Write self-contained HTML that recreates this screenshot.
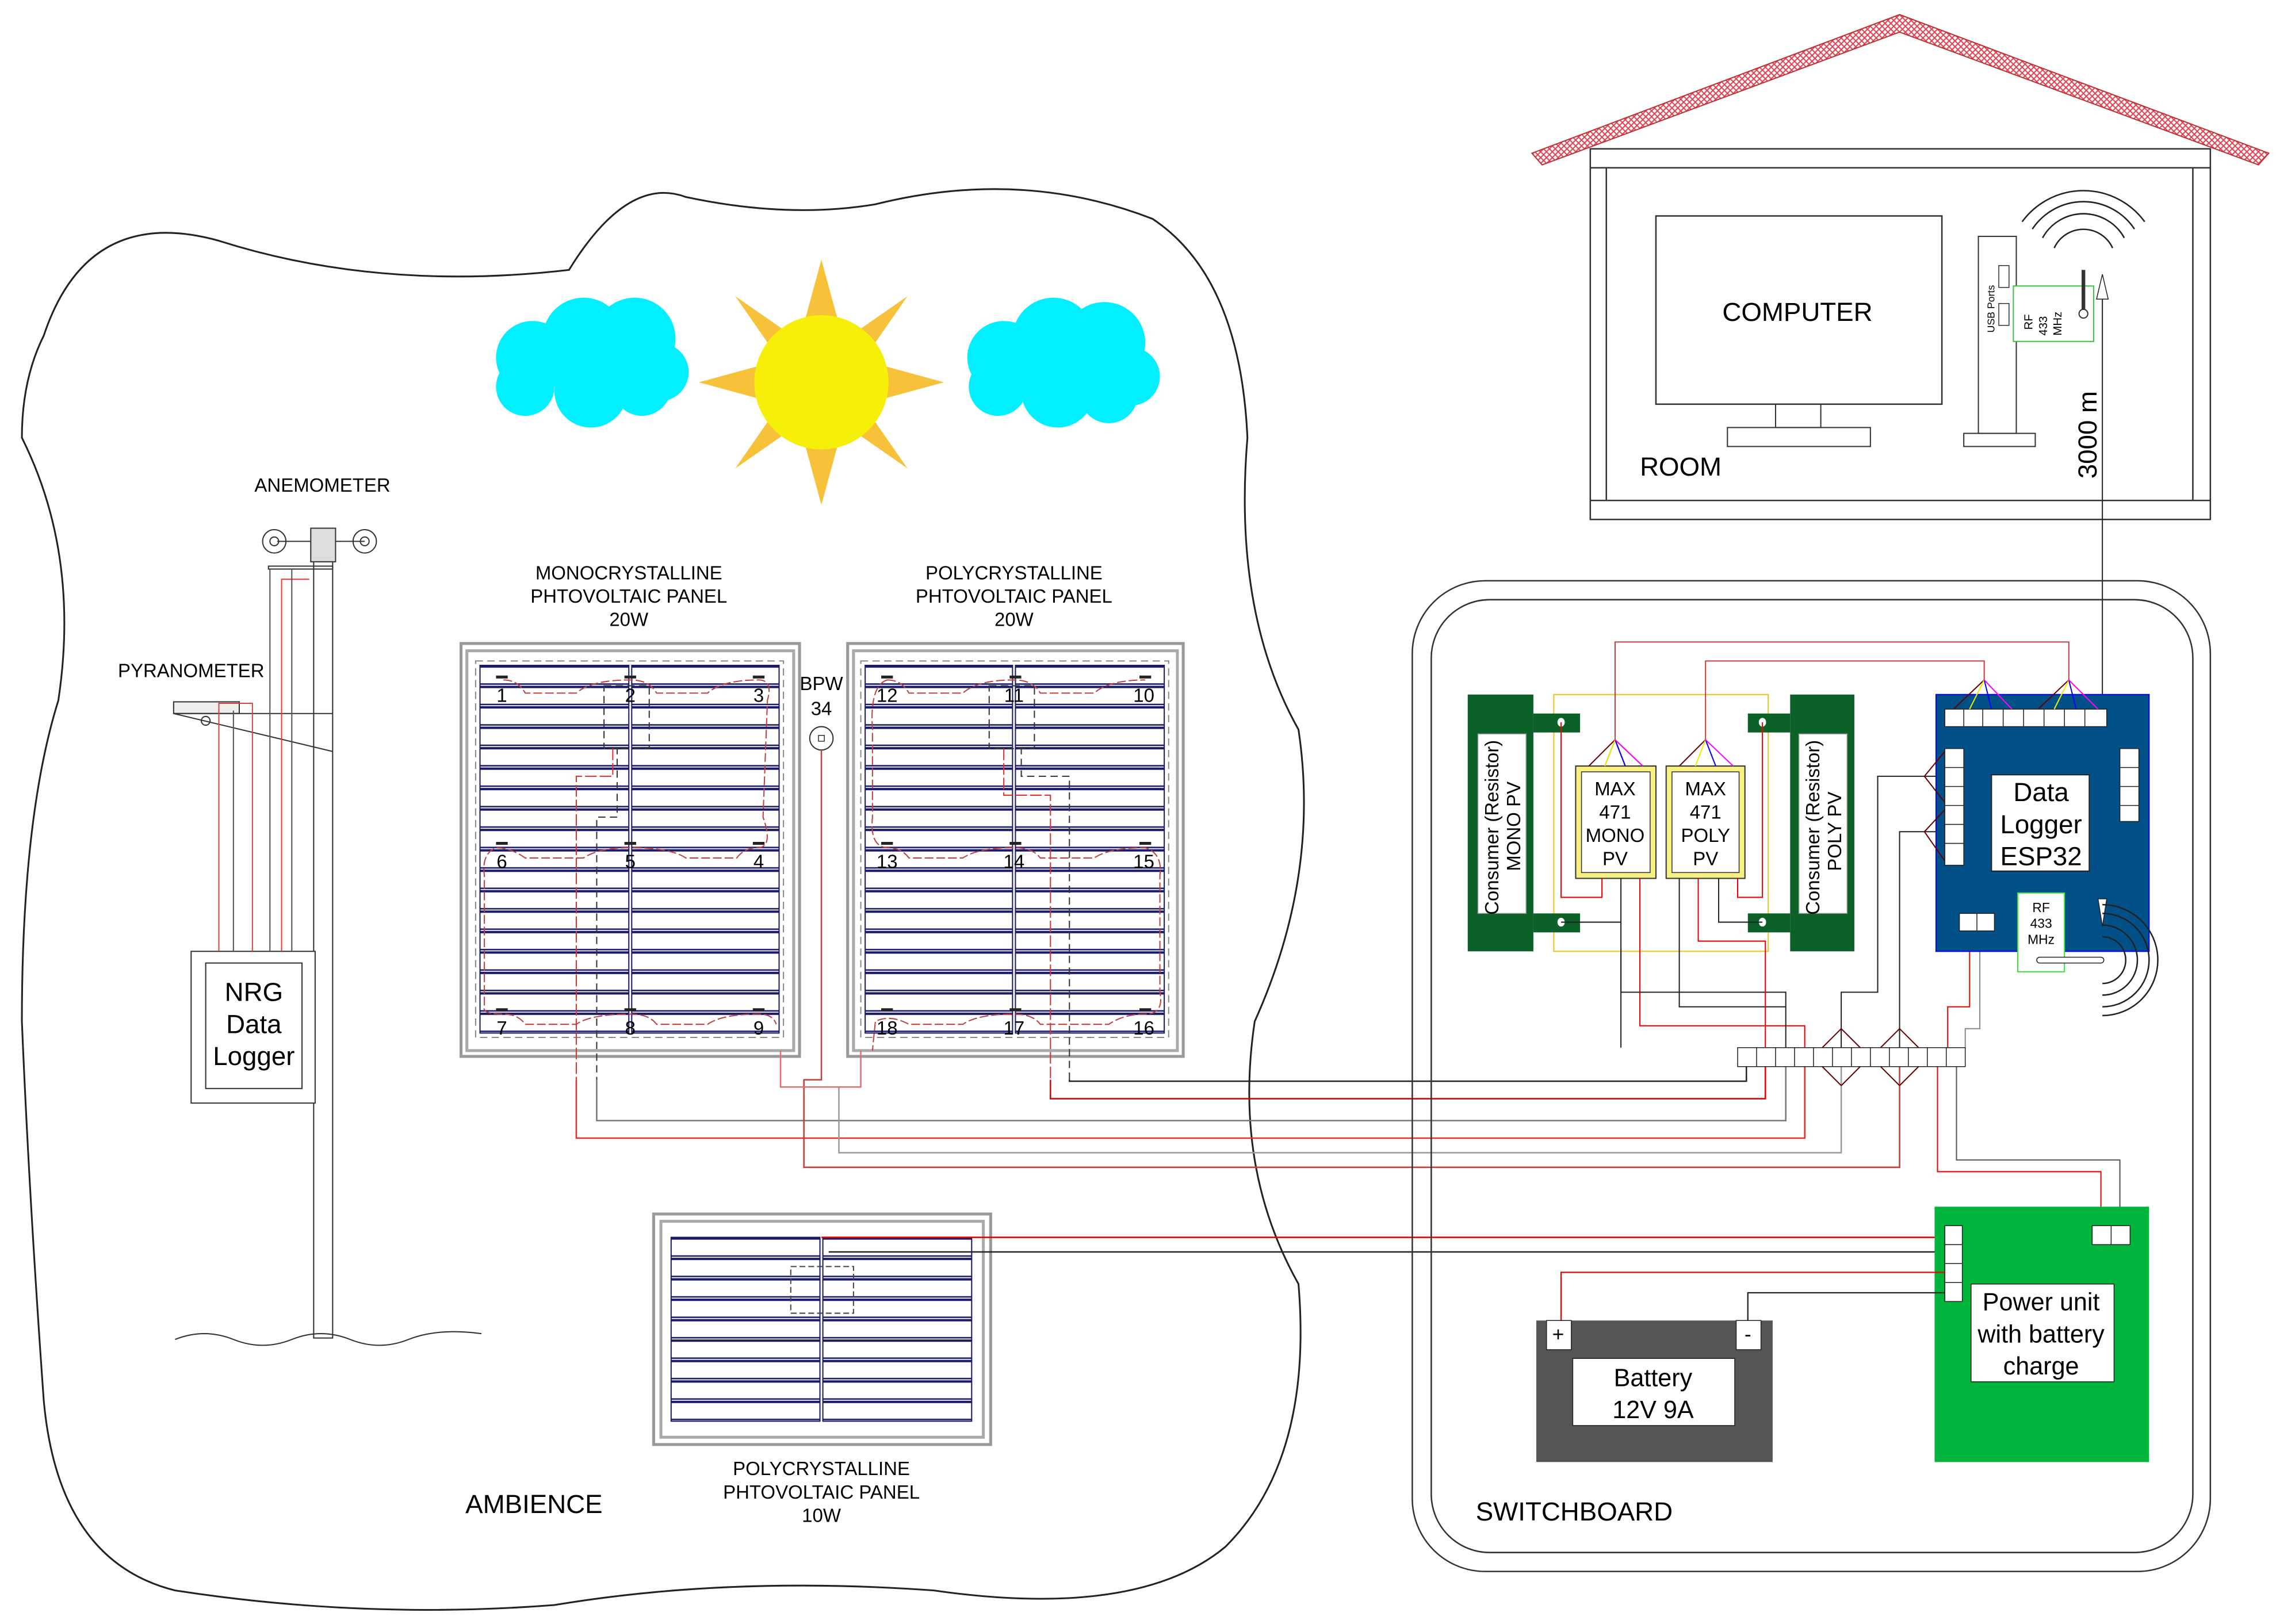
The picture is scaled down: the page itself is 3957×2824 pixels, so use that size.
<!DOCTYPE html>
<html><head><meta charset="utf-8"><style>
html,body{margin:0;padding:0;background:#fff}
svg{display:block}
text{font-family:"Liberation Sans",sans-serif}
</style></head><body>
<svg width="3957" height="2824" viewBox="0 0 1560 1113" preserveAspectRatio="none" xmlns="http://www.w3.org/2000/svg">
<defs>
<pattern id="cells" patternUnits="userSpaceOnUse" x="0" y="456" width="20" height="14">
<rect width="20" height="14" fill="#fff"/>
<line x1="0" y1="0.8" x2="20" y2="0.8" stroke="#1a1a6a" stroke-width="1.6"/>
<line x1="0" y1="12.8" x2="20" y2="12.8" stroke="#1a1a6a" stroke-width="1"/>
</pattern>
<pattern id="cells2" patternUnits="userSpaceOnUse" x="0" y="848" width="20" height="14">
<rect width="20" height="14" fill="#fff"/>
<line x1="0" y1="0.8" x2="20" y2="0.8" stroke="#1a1a6a" stroke-width="1.6"/>
<line x1="0" y1="12.8" x2="20" y2="12.8" stroke="#1a1a6a" stroke-width="1"/>
</pattern>
<pattern id="hatch" patternUnits="userSpaceOnUse" width="4" height="4">
<rect width="4" height="4" fill="#fff"/>
<path d="M0,4 L4,0 M0,0 L4,4" stroke="#e04050" stroke-width="0.8"/>
</pattern>
</defs>
<rect width="1560" height="1113" fill="#fff"/>

<!-- Ambience blob -->
<path d="M30,230 Q60,140 150,165 Q260,200 390,185 Q430,120 470,135 Q540,150 600,140 Q700,115 790,150 Q850,190 855,300 Q845,420 890,500 Q905,600 860,700 Q845,800 890,880 Q900,1000 840,1060 Q780,1110 640,1090 Q500,1080 380,1100 Q250,1110 120,1090 Q40,1070 30,960 Q20,820 15,700 Q15,560 40,480 Q55,380 15,300 Q15,260 30,230 Z" fill="none" stroke="#222" stroke-width="1.2"/>

<!-- Sun -->
<g fill="#f7c23a">
<polygon points="563,178 575,222 551,222"/>
<polygon points="563,346 575,302 551,302"/>
<polygon points="479,262 523,250 523,274"/>
<polygon points="647,262 603,250 603,274"/>
<polygon points="504,203 540,228 529,239"/>
<polygon points="622,203 586,228 597,239"/>
<polygon points="504,321 540,296 529,285"/>
<polygon points="622,321 586,296 597,285"/>
</g>
<circle cx="563" cy="262" r="46" fill="#f5ef0a"/>

<!-- Clouds -->
<g fill="#00f0ff">
<circle cx="365" cy="245" r="25"/><circle cx="400" cy="232" r="28"/><circle cx="435" cy="232" r="28"/><circle cx="452" cy="255" r="20"/><circle cx="360" cy="265" r="20"/><circle cx="405" cy="268" r="25"/><circle cx="440" cy="265" r="20"/>
<circle cx="688" cy="245" r="25"/><circle cx="722" cy="232" r="28"/><circle cx="757" cy="235" r="28"/><circle cx="775" cy="258" r="20"/><circle cx="684" cy="265" r="20"/><circle cx="725" cy="268" r="25"/><circle cx="760" cy="270" r="20"/>
</g>

<!-- Anemometer / pyranometer pole -->
<text x="221" y="337" font-size="13" text-anchor="middle">ANEMOMETER</text>
<text x="131" y="464" font-size="13" text-anchor="middle">PYRANOMETER</text>
<g stroke="#333" fill="none" stroke-width="0.8">
<rect x="215" y="372" width="13" height="545" fill="#fff"/>
<line x1="190" y1="371" x2="250" y2="371"/>
<circle cx="188" cy="371" r="8"/><circle cx="188" cy="371" r="3"/>
<circle cx="250" cy="371" r="8"/><circle cx="250" cy="371" r="3"/>
<path d="M213,362 L230,362 L230,385 L213,385 Z" fill="#ddd"/>
<rect x="184" y="388" width="44" height="2"/>
<rect x="119" y="481" width="45" height="8" fill="#eee"/>
<line x1="119" y1="489" x2="228" y2="489"/>
<line x1="119" y1="489" x2="228" y2="515"/>
<circle cx="141" cy="494" r="3"/>
<path d="M120,918 Q140,910 160,918 T200,918 T240,918 T280,918 T330,914"/>
<rect x="131" y="652" width="85" height="104" fill="#fff"/>
<rect x="141" y="660" width="66" height="86"/>
</g>
<g fill="none" stroke-width="0.8">
<path d="M150,652 L150,482 L173,482 L173,652" stroke="#e04040"/>
<path d="M160,652 L160,487" stroke="#555"/>
<path d="M185,652 L185,390" stroke="#555"/>
<path d="M193,652 L193,397 L212,397" stroke="#e04040"/>
<path d="M200,652 L200,390" stroke="#555"/>
</g>
<text x="174" y="686" font-size="18" text-anchor="middle">NRG</text>
<text x="174" y="708" font-size="18" text-anchor="middle">Data</text>
<text x="174" y="730" font-size="18" text-anchor="middle">Logger</text>

<!-- Panel labels -->
<g font-size="13" text-anchor="middle">
<text x="431" y="397">MONOCRYSTALLINE</text><text x="431" y="413">PHTOVOLTAIC PANEL</text><text x="431" y="429">20W</text>
<text x="695" y="397">POLYCRYSTALLINE</text><text x="695" y="413">PHTOVOLTAIC PANEL</text><text x="695" y="429">20W</text>
<text x="563" y="1011">POLYCRYSTALLINE</text><text x="563" y="1027">PHTOVOLTAIC PANEL</text><text x="563" y="1043">10W</text>
<text x="563" y="473">BPW</text><text x="563" y="490">34</text>
</g>
<circle cx="563" cy="506" r="8" fill="#fff" stroke="#333" stroke-width="0.8"/>
<rect x="561" y="504" width="4" height="4" fill="none" stroke="#333" stroke-width="0.6"/>

<!-- Mono panel -->
<rect x="316" y="441" width="232" height="283" fill="#fff" stroke="#999" stroke-width="2"/>
<rect x="320" y="446" width="224" height="274" fill="none" stroke="#aaa" stroke-width="2"/>
<rect x="329" y="456" width="102" height="252" fill="url(#cells)" stroke="#1a1a6a" stroke-width="0.8"/>
<rect x="433" y="456" width="101" height="252" fill="url(#cells)" stroke="#1a1a6a" stroke-width="0.8"/>
<rect x="326" y="453" width="211" height="258" fill="none" stroke="#888" stroke-dasharray="5,3" stroke-width="0.8"/>
<!-- Poly panel -->
<rect x="581" y="441" width="230" height="283" fill="#fff" stroke="#999" stroke-width="2"/>
<rect x="585" y="446" width="222" height="274" fill="none" stroke="#aaa" stroke-width="2"/>
<rect x="593" y="456" width="101" height="252" fill="url(#cells)" stroke="#1a1a6a" stroke-width="0.8"/>
<rect x="696" y="456" width="102" height="252" fill="url(#cells)" stroke="#1a1a6a" stroke-width="0.8"/>
<rect x="590" y="453" width="211" height="258" fill="none" stroke="#888" stroke-dasharray="5,3" stroke-width="0.8"/>

<!-- panel red dashed string wiring -->
<g fill="none" stroke="#c04040" stroke-width="0.8" stroke-dasharray="6,2">
<path d="M345,466 Q355,466 360,475 L395,475 Q405,466 432,466 Q445,466 450,475 L485,475 Q495,466 520,466 Q530,466 526,480 L523,560 Q530,580 520,581 Q510,581 505,588 L470,588 Q460,581 432,581 Q410,581 400,588 L360,588 Q350,581 340,581 Q330,585 332,600 L332,690 Q330,695 345,695 Q355,695 360,702 L395,702 Q405,695 432,695 Q445,695 450,702 L485,702 Q495,695 520,695 Q530,695 532,702"/>
<path d="M608,466 Q618,466 623,475 L660,475 Q670,466 695,466 Q708,466 713,475 L750,475 Q760,466 785,466 M608,466 Q596,470 598,500 L598,560 Q596,580 608,581 Q618,581 623,588 L660,588 Q670,581 695,581 Q708,581 713,588 L750,588 Q760,581 785,581 Q797,585 795,600 L795,680 Q798,695 785,695 Q770,695 760,702 L713,702 Q708,695 695,695 Q670,695 660,702 L623,702 Q610,695 600,700 L598,720"/>
</g>
<g fill="none" stroke="#333" stroke-width="0.8" stroke-dasharray="5,3">
<rect x="414" y="470" width="31" height="43"/>
<rect x="678" y="470" width="31" height="43"/>
<path d="M423,512 L423,560 L409,560 L409,770"/>
<path d="M700,512 L700,532 L733,532 L733,740"/>
</g>
<g fill="none" stroke="#e03030" stroke-width="0.8" stroke-dasharray="8,2">
<path d="M420,513 L420,532 L395,532 L395,740"/><path d="M688,513 L688,545 L720,545 L720,740"/>
</g>
<!-- terminal markers & numbers -->
<g fill="#222">
<rect x="340" y="463" width="8" height="2"/><rect x="428" y="463" width="8" height="2"/><rect x="516" y="463" width="8" height="2"/>
<rect x="340" y="577" width="8" height="2"/><rect x="428" y="577" width="8" height="2"/><rect x="516" y="577" width="8" height="2"/>
<rect x="340" y="691" width="8" height="2"/><rect x="428" y="691" width="8" height="2"/><rect x="516" y="691" width="8" height="2"/>
<rect x="604" y="463" width="8" height="2"/><rect x="692" y="463" width="8" height="2"/><rect x="781" y="463" width="8" height="2"/>
<rect x="604" y="577" width="8" height="2"/><rect x="692" y="577" width="8" height="2"/><rect x="781" y="577" width="8" height="2"/>
<rect x="604" y="691" width="8" height="2"/><rect x="692" y="691" width="8" height="2"/><rect x="781" y="691" width="8" height="2"/>
</g>
<g font-size="13" text-anchor="middle">
<text x="344" y="481">1</text><text x="432" y="481">2</text><text x="520" y="481">3</text>
<text x="344" y="595">6</text><text x="432" y="595">5</text><text x="520" y="595">4</text>
<text x="344" y="709">7</text><text x="432" y="709">8</text><text x="520" y="709">9</text>
<text x="608" y="481">12</text><text x="695" y="481">11</text><text x="784" y="481">10</text>
<text x="608" y="595">13</text><text x="695" y="595">14</text><text x="784" y="595">15</text>
<text x="608" y="709">18</text><text x="695" y="709">17</text><text x="784" y="709">16</text>
</g>

<!-- 10W panel -->
<rect x="448" y="832" width="231" height="158" fill="#fff" stroke="#999" stroke-width="2"/>
<rect x="453" y="837" width="221" height="148" fill="none" stroke="#aaa" stroke-width="2"/>
<rect x="460" y="848" width="102" height="126" fill="url(#cells2)" stroke="#1a1a6a" stroke-width="0.8"/>
<rect x="564" y="848" width="102" height="126" fill="url(#cells2)" stroke="#1a1a6a" stroke-width="0.8"/>
<rect x="542" y="868" width="43" height="32" fill="none" stroke="#444" stroke-width="0.8" stroke-dasharray="4,2"/>

<!-- Ambience wires to switchboard -->
<g fill="none" stroke-width="1">
<path d="M395,740 L395,780 L1237,780 L1237,731" stroke="#e03030"/>
<path d="M409,740 L409,768 L1224,768 L1224,731" stroke="#777"/>
<path d="M720,740 L720,753 L1210,753 L1210,731" stroke="#e00000"/>
<path d="M733,740 L733,741 L1197,741 L1197,731" stroke="#222"/>
<path d="M563,514 L563,740 L551,740 L551,800 L1302,800 L1302,731" stroke="#c04040"/>
<path d="M575,745 L575,790 L1262,790 L1262,731" stroke="#999"/>
<path d="M535,720 L535,745 L590,745 L590,720" stroke="#e07070"/>
<path d="M563,848 L1333,848" stroke="#e00000"/>
<path d="M568,858 L1333,858" stroke="#222"/>
</g>

<!-- House -->
<polygon points="1050,105 1302,10 1555,105 1548,113 1302,22 1057,113" fill="url(#hatch)" stroke="#c03030" stroke-width="0.8"/>
<rect x="1090" y="102" width="425" height="254" fill="#fff" stroke="#333" stroke-width="1"/>
<line x1="1090" y1="115" x2="1515" y2="115" stroke="#333"/>
<line x1="1090" y1="343" x2="1515" y2="343" stroke="#333"/>
<line x1="1101" y1="115" x2="1101" y2="343" stroke="#333"/>
<line x1="1503" y1="115" x2="1503" y2="343" stroke="#333"/>
<rect x="1135" y="148" width="196" height="129" fill="#fff" stroke="#333" stroke-width="1"/>
<rect x="1217" y="277" width="31" height="16" fill="none" stroke="#333" stroke-width="0.8"/>
<rect x="1184" y="293" width="98" height="13" fill="none" stroke="#333" stroke-width="0.8"/>
<text x="1232" y="220" font-size="18" text-anchor="middle">COMPUTER</text>
<text x="1152" y="326" font-size="18" text-anchor="middle">ROOM</text>
<rect x="1356" y="162" width="26" height="135" fill="#fff" stroke="#333" stroke-width="0.8"/>
<rect x="1346" y="297" width="49" height="9" fill="none" stroke="#333" stroke-width="0.8"/>
<rect x="1370" y="182" width="7" height="15" fill="none" stroke="#333" stroke-width="0.6"/>
<rect x="1370" y="208" width="7" height="15" fill="none" stroke="#333" stroke-width="0.6"/>
<text transform="translate(1367,228) rotate(-90)" font-size="7">USB Ports</text>
<rect x="1380" y="196" width="55" height="38" fill="#fff" stroke="#40c040" stroke-width="0.8"/>
<text transform="translate(1393,226) rotate(-90)" font-size="8">RF</text>
<text transform="translate(1403,230) rotate(-90)" font-size="8">433</text>
<text transform="translate(1413,230) rotate(-90)" font-size="8">MHz</text>
<circle cx="1428" cy="215" r="3" fill="none" stroke="#333" stroke-width="0.8"/>
<line x1="1428" y1="212" x2="1428" y2="185" stroke="#333" stroke-width="2.5"/>
<g fill="none" stroke="#222" stroke-width="1">
<path d="M1408,170 A22,22 0 0 1 1448,170"/><path d="M1400,163 A32,32 0 0 1 1456,163"/><path d="M1393,157 A42,42 0 0 1 1463,157"/><path d="M1386,152 A52,52 0 0 1 1470,152"/>
</g>
<text transform="translate(1437,328) rotate(-90)" font-size="18">3000 m</text>
<line x1="1441" y1="195" x2="1441" y2="630" stroke="#222" stroke-width="0.8"/>
<polygon points="1437,205 1441,188 1445,205" fill="#fff" stroke="#222" stroke-width="0.6"/>

<!-- Switchboard -->
<rect x="968" y="398" width="547" height="679" rx="50" fill="none" stroke="#333" stroke-width="1"/>
<rect x="981" y="411" width="522" height="653" rx="40" fill="none" stroke="#333" stroke-width="1"/>
<text x="1079" y="1042" font-size="18" text-anchor="middle">SWITCHBOARD</text>
<text x="366" y="1037" font-size="18" text-anchor="middle">AMBIENCE</text>

<!-- Consumer boxes -->
<rect x="1065" y="476" width="147" height="176" fill="none" stroke="#f0c020" stroke-width="0.8"/>
<rect x="1006" y="476" width="45" height="176" fill="#0b6128"/>
<rect x="1013" y="503" width="33" height="123" fill="#fff" stroke="#999" stroke-width="0.6"/>
<rect x="1051" y="489" width="32" height="13" fill="#0b6128"/><rect x="1051" y="626" width="32" height="13" fill="#0b6128"/>
<ellipse cx="1070" cy="495" rx="2.5" ry="3" fill="#fff"/><ellipse cx="1070" cy="632" rx="2.5" ry="3" fill="#fff"/>
<text transform="translate(1027,627) rotate(-90)" font-size="13">Consumer (Resistor)</text>
<text transform="translate(1042,597) rotate(-90)" font-size="13">MONO PV</text>
<rect x="1227" y="476" width="44" height="176" fill="#0b6128"/>
<rect x="1233" y="503" width="33" height="123" fill="#fff" stroke="#999" stroke-width="0.6"/>
<rect x="1198" y="489" width="29" height="13" fill="#0b6128"/><rect x="1198" y="626" width="29" height="13" fill="#0b6128"/>
<ellipse cx="1208" cy="495" rx="2.5" ry="3" fill="#fff"/><ellipse cx="1208" cy="632" rx="2.5" ry="3" fill="#fff"/>
<text transform="translate(1247,627) rotate(-90)" font-size="13">Consumer (Resistor)</text>
<text transform="translate(1262,597) rotate(-90)" font-size="13">POLY PV</text>

<!-- MAX boxes -->
<rect x="1080" y="525" width="55" height="77" fill="#f8f080" stroke="#333" stroke-width="0.8"/>
<rect x="1084" y="529" width="47" height="69" fill="#fff" stroke="#333" stroke-width="0.6"/>
<rect x="1142" y="525" width="54" height="77" fill="#f8f080" stroke="#333" stroke-width="0.8"/>
<rect x="1146" y="529" width="46" height="69" fill="#fff" stroke="#333" stroke-width="0.6"/>
<g font-size="13" text-anchor="middle">
<text x="1107" y="545">MAX</text><text x="1107" y="561">471</text><text x="1107" y="577">MONO</text><text x="1107" y="593">PV</text>
<text x="1169" y="545">MAX</text><text x="1169" y="561">471</text><text x="1169" y="577">POLY</text><text x="1169" y="593">PV</text>
</g>
<g fill="none" stroke-width="0.8">
<path d="M1089,525 L1107,507 M1100,525 L1107,507 M1114,525 L1107,507 M1126,525 L1107,507" stroke="#600"/>
<path d="M1100,525 L1107,507" stroke="#ee0"/><path d="M1114,525 L1107,507" stroke="#00f"/><path d="M1126,525 L1107,507" stroke="#f0f"/>
<path d="M1151,525 L1169,507" stroke="#600"/><path d="M1162,525 L1169,507" stroke="#ee0"/><path d="M1176,525 L1169,507" stroke="#00f"/><path d="M1188,525 L1169,507" stroke="#f0f"/>
<path d="M1107,507 L1107,440 L1418,440 L1418,466" stroke="#c04040"/>
<path d="M1169,507 L1169,453 L1360,453 L1360,466" stroke="#c04040"/>
<path d="M1070,495 L1070,615 L1098,615 L1098,602" stroke="#e00"/>
<path d="M1070,632 L1111,632 L1111,602" stroke="#222"/>
<path d="M1208,495 L1208,615 L1191,615 L1191,602" stroke="#e00"/>
<path d="M1208,632 L1178,632 L1178,602" stroke="#222"/>
<path d="M1124,602 L1124,703 L1237,703 L1237,718" stroke="#e00"/>
<path d="M1111,632 L1111,718" stroke="#222"/>
<path d="M1111,650 L1111,680 L1224,680 L1224,718" stroke="#222"/>
<path d="M1151,602 L1151,690 L1224,690" stroke="#222"/>
<path d="M1164,602 L1164,645 L1210,645 L1210,718" stroke="#e00"/>
<path d="M1262,718 L1262,680 L1287,680 L1287,532 L1327,532" stroke="#222"/>
<path d="M1302,718 L1302,570 L1327,570" stroke="#222"/>
<path d="M1335,718 L1335,690 L1350,690 L1350,650" stroke="#e00"/>
<path d="M1347,718 L1347,705 L1357,705 L1357,650" stroke="#888"/>
<path d="M1328,731 L1328,803 L1440,803 L1440,840" stroke="#e00"/>
<path d="M1341,731 L1341,795 L1453,795 L1453,840" stroke="#555"/>
<path d="M1210,731 L1210,731" stroke="#e00"/>
</g>

<!-- ESP32 -->
<rect x="1327" y="476" width="146" height="176" fill="#025088" stroke="#00f" stroke-width="0.8"/>
<rect x="1333" y="486" width="111" height="12" fill="#fff" stroke="#222" stroke-width="0.6"/>
<g stroke="#222" stroke-width="0.6">
<line x1="1346" y1="486" x2="1346" y2="498"/><line x1="1359" y1="486" x2="1359" y2="498"/><line x1="1373" y1="486" x2="1373" y2="498"/><line x1="1387" y1="486" x2="1387" y2="498"/><line x1="1401" y1="486" x2="1401" y2="498"/><line x1="1415" y1="486" x2="1415" y2="498"/><line x1="1429" y1="486" x2="1429" y2="498"/>
</g>
<g fill="none" stroke-width="0.8">
<path d="M1339,486 L1360,466" stroke="#600"/><path d="M1350,486 L1360,466" stroke="#ee0"/><path d="M1365,486 L1360,466" stroke="#00f"/><path d="M1379,486 L1360,466" stroke="#f0f"/>
<path d="M1397,486 L1418,466" stroke="#600"/><path d="M1408,486 L1418,466" stroke="#ee0"/><path d="M1423,486 L1418,466" stroke="#00f"/><path d="M1438,486 L1418,466" stroke="#f0f"/>
<path d="M1333,515 L1319,532 L1333,550 M1333,555 L1319,570 L1333,590" stroke="#600"/>
</g>
<rect x="1333" y="513" width="13" height="80" fill="#fff" stroke="#222" stroke-width="0.6"/>
<g stroke="#222" stroke-width="0.6"><line x1="1333" y1="526" x2="1346" y2="526"/><line x1="1333" y1="539" x2="1346" y2="539"/><line x1="1333" y1="552" x2="1346" y2="552"/><line x1="1333" y1="565" x2="1346" y2="565"/><line x1="1333" y1="578" x2="1346" y2="578"/></g>
<rect x="1453" y="513" width="13" height="50" fill="#fff" stroke="#222" stroke-width="0.6"/>
<g stroke="#222" stroke-width="0.6"><line x1="1453" y1="526" x2="1466" y2="526"/><line x1="1453" y1="539" x2="1466" y2="539"/><line x1="1453" y1="552" x2="1466" y2="552"/></g>
<rect x="1365" y="531" width="67" height="66" fill="#fff" stroke="#222" stroke-width="0.8"/>
<text x="1399" y="549" font-size="18" text-anchor="middle">Data</text>
<text x="1399" y="571" font-size="18" text-anchor="middle">Logger</text>
<text x="1399" y="593" font-size="18" text-anchor="middle">ESP32</text>
<rect x="1343" y="626" width="24" height="12" fill="#fff" stroke="#222" stroke-width="0.6"/>
<line x1="1355" y1="626" x2="1355" y2="638" stroke="#222" stroke-width="0.6"/>
<rect x="1383" y="612" width="32" height="54" fill="#fff" stroke="#40e040" stroke-width="0.8"/>
<text x="1399" y="625" font-size="9" text-anchor="middle">RF</text>
<text x="1399" y="636" font-size="9" text-anchor="middle">433</text>
<text x="1399" y="647" font-size="9" text-anchor="middle">MHz</text>
<rect x="1396" y="656" width="46" height="4" rx="2" fill="#fff" stroke="#222" stroke-width="0.6"/>
<polygon points="1438,616 1441,635 1444,616" fill="#fff" stroke="#222" stroke-width="0.6"/>
<g fill="none" stroke="#222" stroke-width="1">
<path d="M1441,642 A16,16 0 0 1 1441,674"/><path d="M1441,634 A24,24 0 0 1 1441,682"/><path d="M1441,626 A32,32 0 0 1 1441,690"/><path d="M1441,620 A38,38 0 0 1 1441,696"/>
</g>

<!-- terminal row -->
<rect x="1191" y="718" width="156" height="13" fill="#fff" stroke="#222" stroke-width="0.6"/>
<g stroke="#222" stroke-width="0.6">
<line x1="1204" y1="718" x2="1204" y2="731"/><line x1="1217" y1="718" x2="1217" y2="731"/><line x1="1230" y1="718" x2="1230" y2="731"/><line x1="1243" y1="718" x2="1243" y2="731"/><line x1="1256" y1="718" x2="1256" y2="731"/><line x1="1269" y1="718" x2="1269" y2="731"/><line x1="1282" y1="718" x2="1282" y2="731"/><line x1="1295" y1="718" x2="1295" y2="731"/><line x1="1308" y1="718" x2="1308" y2="731"/><line x1="1321" y1="718" x2="1321" y2="731"/><line x1="1334" y1="718" x2="1334" y2="731"/>
</g>
<path d="M1262,705 L1249,718 M1262,705 L1275,718 M1262,744 L1249,731 M1262,744 L1275,731 M1302,705 L1289,718 M1302,705 L1315,718 M1302,744 L1289,731 M1302,744 L1315,731" stroke="#600" stroke-width="0.8" fill="none"/>

<!-- Power unit -->
<rect x="1326" y="827" width="147" height="175" fill="#00b43c"/>
<rect x="1351" y="880" width="98" height="67" fill="#fff" stroke="#222" stroke-width="0.6"/>
<text x="1399" y="898" font-size="17" text-anchor="middle">Power unit</text>
<text x="1399" y="920" font-size="17" text-anchor="middle">with battery</text>
<text x="1399" y="942" font-size="17" text-anchor="middle">charge</text>
<rect x="1333" y="840" width="12" height="52" fill="#fff" stroke="#222" stroke-width="0.6"/>
<g stroke="#222" stroke-width="0.6"><line x1="1333" y1="853" x2="1345" y2="853"/><line x1="1333" y1="866" x2="1345" y2="866"/><line x1="1333" y1="879" x2="1345" y2="879"/></g>
<rect x="1434" y="840" width="26" height="13" fill="#fff" stroke="#222" stroke-width="0.6"/>
<line x1="1447" y1="840" x2="1447" y2="853" stroke="#222" stroke-width="0.6"/>

<!-- Battery -->
<g fill="none" stroke-width="0.9">
<path d="M1070,905 L1070,872 L1333,872" stroke="#e00"/>
<path d="M1198,905 L1198,886 L1333,886" stroke="#222"/>
</g>
<rect x="1053" y="905" width="162" height="97" fill="#555"/>
<rect x="1060" y="905" width="17" height="20" fill="#fff" stroke="#222" stroke-width="0.6"/>
<rect x="1190" y="905" width="17" height="20" fill="#fff" stroke="#222" stroke-width="0.6"/>
<text x="1068" y="919" font-size="14" text-anchor="middle">+</text>
<text x="1198" y="919" font-size="14" text-anchor="middle">-</text>
<rect x="1078" y="931" width="111" height="46" fill="#fff" stroke="#222" stroke-width="0.6"/>
<text x="1133" y="950" font-size="17" text-anchor="middle">Battery</text>
<text x="1133" y="972" font-size="17" text-anchor="middle">12V 9A</text>
</svg>
</body></html>
